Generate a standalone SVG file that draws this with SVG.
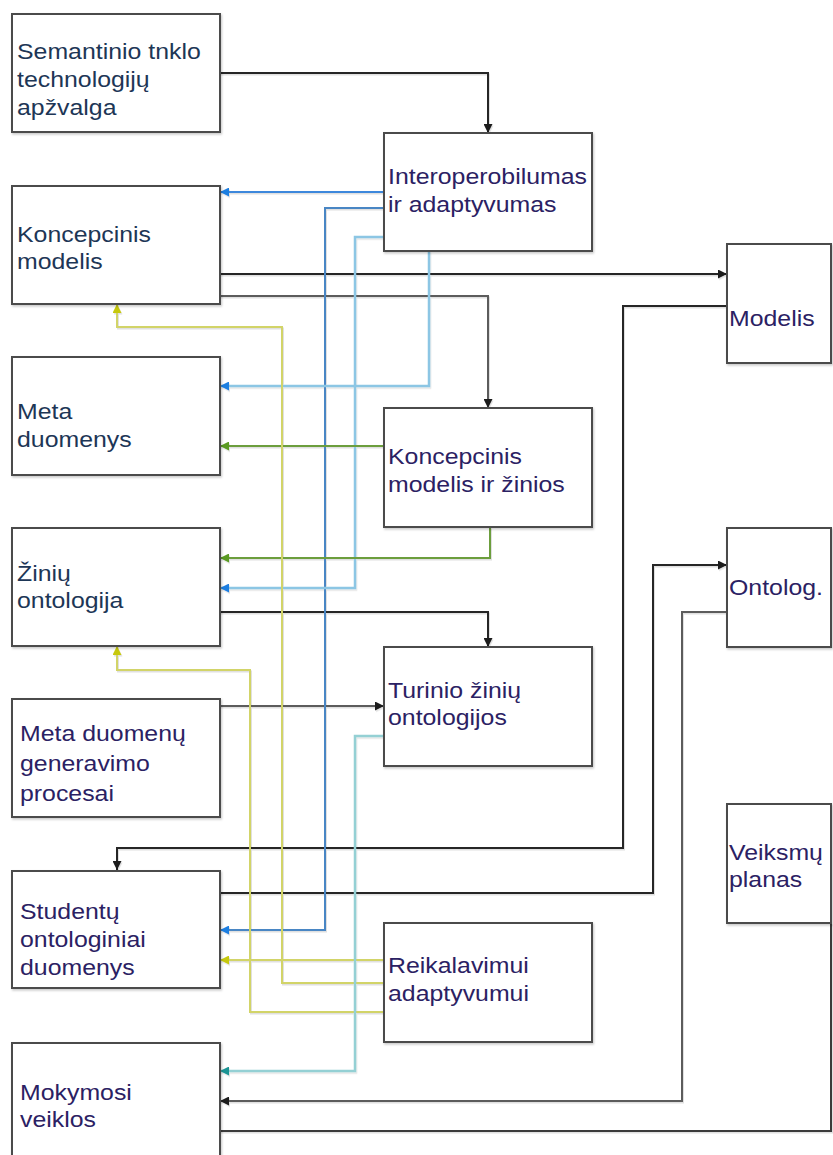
<svg xmlns="http://www.w3.org/2000/svg" width="833" height="1155" viewBox="0 0 833 1155">
  <defs>
    <filter id="shadow" x="-5%" y="-5%" width="115%" height="115%">
      <feDropShadow dx="1" dy="1.5" stdDeviation="0.8" flood-color="#000" flood-opacity="0.22"/>
    </filter>
    <filter id="lineShadow" x="-5%" y="-5%" width="110%" height="110%">
      <feDropShadow dx="1" dy="1.5" stdDeviation="0.6" flood-color="#000" flood-opacity="0.12"/>
    </filter>
    <marker id="ah-black" viewBox="0 0 10 10" refX="10" refY="5" markerWidth="10" markerHeight="9" markerUnits="userSpaceOnUse" orient="auto">
      <path d="M0,0 L10,5 L0,10 z" fill="#1e1e1e"/>
    </marker>
    <marker id="ah-blue" viewBox="0 0 10 10" refX="10" refY="5" markerWidth="10" markerHeight="9" markerUnits="userSpaceOnUse" orient="auto">
      <path d="M0,0 L10,5 L0,10 z" fill="#1f7ee0"/>
    </marker>
    <marker id="ah-green" viewBox="0 0 10 10" refX="10" refY="5" markerWidth="10" markerHeight="9" markerUnits="userSpaceOnUse" orient="auto">
      <path d="M0,0 L10,5 L0,10 z" fill="#5a9a22"/>
    </marker>
    <marker id="ah-yellow" viewBox="0 0 10 10" refX="10" refY="5" markerWidth="10" markerHeight="9" markerUnits="userSpaceOnUse" orient="auto">
      <path d="M0,0 L10,5 L0,10 z" fill="#c6c80e"/>
    </marker>
    <marker id="ah-teal" viewBox="0 0 10 10" refX="10" refY="5" markerWidth="10" markerHeight="9" markerUnits="userSpaceOnUse" orient="auto">
      <path d="M0,0 L10,5 L0,10 z" fill="#1b9494"/>
    </marker>
  </defs>
  <style>
    .box { fill: #ffffff; stroke: #4c4c4c; stroke-width: 2; filter: url(#shadow); }
    .lbl { font-family: "Liberation Sans", Arial, sans-serif; font-size: 22px; fill: #2b2163; }
    .lbl-b { fill: #1d3656; }
    .c { fill: none; stroke-width: 2; stroke-linejoin: miter; }
    .k { stroke: #262626; marker-end: url(#ah-black); }
    .kg { stroke: #5c5c5c; marker-end: url(#ah-black); }
    .blue { stroke: #3c88dc; marker-end: url(#ah-blue); }
    .steel { stroke: #4a86c4; marker-end: url(#ah-blue); }
    .lblue { stroke: #8cc6e4; stroke-width: 2.5; marker-end: url(#ah-blue); }
    .green { stroke: #6c9e3c; marker-end: url(#ah-green); }
    .yellow { stroke: #d2d468; marker-end: url(#ah-yellow); }
    .teal { stroke: #94d0d4; stroke-width: 2.5; marker-end: url(#ah-teal); }
  </style>
  <rect width="833" height="1155" fill="#ffffff"/>

  <!-- connectors -->
  <g id="connectors" filter="url(#lineShadow)">
    <!-- black flow -->
    <path class="c k" d="M220,73 H488 V133"/>
    <path class="c k" d="M220,274 H727"/>
    <path class="c kg" d="M220,296 H488 V408"/>
    <path class="c k" d="M727,306 H623 V848 H117 V870"/>
    <path class="c k" d="M220,893 H653 V565 H727"/>
    <path class="c kg" d="M727,612 H682 V1101 H220"/>
    <path class="c" stroke="#3a3a3a" d="M831,923 V1131 H220"/>
    <path class="c kg" d="M220,706 H384"/>
    <path class="c k" d="M220,612 H488 V647"/>
    <!-- from Interoperobilumas ir adaptyvumas -->
    <path class="c blue" d="M384,192 H220"/>
    <path class="c steel" d="M384,208 H325 V930 H220"/>
    <path class="c lblue" d="M384,237 H355 V588 H220"/>
    <path class="c lblue" d="M429,251 V386 H220"/>
    <!-- from Koncepcinis modelis ir žinios -->
    <path class="c green" d="M384,446 H220"/>
    <path class="c green" d="M490,527 V558 H220"/>
    <!-- from Reikalavimui adaptyvumui -->
    <path class="c yellow" d="M384,960 H220"/>
    <path class="c yellow" d="M384,983 H282 V327 H117 V304"/>
    <path class="c yellow" d="M384,1012 H250 V670 H117 V646"/>
    <!-- from Turinio žinių ontologijos -->
    <path class="c teal" d="M384,736 H355 V1071 H220"/>
  </g>

  <!-- left column -->
  <g id="semantinio">
    <rect class="box" x="12" y="14" width="208" height="118"/>
    <text class="lbl lbl-b" transform="translate(17 59) scale(1.13 1)"><tspan x="0" y="0">Semantinio tnklo</tspan><tspan x="0" y="28">technologijų</tspan><tspan x="0" y="56">apžvalga</tspan></text>
  </g>
  <g id="koncepcinis">
    <rect class="box" x="12" y="186" width="208" height="118"/>
    <text class="lbl lbl-b" transform="translate(17 242) scale(1.13 1)"><tspan x="0" y="0">Koncepcinis</tspan><tspan x="0" y="27">modelis</tspan></text>
  </g>
  <g id="meta-duomenys">
    <rect class="box" x="12" y="357" width="208" height="118"/>
    <text class="lbl lbl-b" transform="translate(17 419) scale(1.13 1)"><tspan x="0" y="0">Meta</tspan><tspan x="0" y="28">duomenys</tspan></text>
  </g>
  <g id="ziniu-ontologija">
    <rect class="box" x="12" y="528" width="208" height="118"/>
    <text class="lbl lbl-b" transform="translate(17 581) scale(1.13 1)"><tspan x="0" y="0">Žinių</tspan><tspan x="0" y="27">ontologija</tspan></text>
  </g>
  <g id="meta-generavimas">
    <rect class="box" x="12" y="699" width="208" height="118"/>
    <text class="lbl" transform="translate(20 741) scale(1.13 1)"><tspan x="0" y="0">Meta duomenų</tspan><tspan x="0" y="30">generavimo</tspan><tspan x="0" y="60">procesai</tspan></text>
  </g>
  <g id="studentu">
    <rect class="box" x="12" y="871" width="208" height="117"/>
    <text class="lbl" transform="translate(20 919) scale(1.13 1)"><tspan x="0" y="0">Studentų</tspan><tspan x="0" y="28">ontologiniai</tspan><tspan x="0" y="56">duomenys</tspan></text>
  </g>
  <g id="mokymosi">
    <rect class="box" x="12" y="1043" width="208" height="125"/>
    <text class="lbl" transform="translate(20 1100) scale(1.13 1)"><tspan x="0" y="0">Mokymosi</tspan><tspan x="0" y="27">veiklos</tspan></text>
  </g>

  <!-- middle column -->
  <g id="interoperobilumas">
    <rect class="box" x="384" y="133" width="208" height="118"/>
    <text class="lbl" transform="translate(388 184) scale(1.13 1)"><tspan x="0" y="0">Interoperobilumas</tspan><tspan x="0" y="28">ir adaptyvumas</tspan></text>
  </g>
  <g id="koncepcinis-zinios">
    <rect class="box" x="384" y="408" width="208" height="119"/>
    <text class="lbl" transform="translate(388 464) scale(1.13 1)"><tspan x="0" y="0">Koncepcinis</tspan><tspan x="0" y="28">modelis ir žinios</tspan></text>
  </g>
  <g id="turinio">
    <rect class="box" x="384" y="647" width="208" height="119"/>
    <text class="lbl" transform="translate(388 698) scale(1.13 1)"><tspan x="0" y="0">Turinio žinių</tspan><tspan x="0" y="27">ontologijos</tspan></text>
  </g>
  <g id="reikalavimui">
    <rect class="box" x="384" y="923" width="208" height="119"/>
    <text class="lbl" transform="translate(388 973) scale(1.13 1)"><tspan x="0" y="0">Reikalavimui</tspan><tspan x="0" y="28">adaptyvumui</tspan></text>
  </g>

  <!-- right column -->
  <g id="modelis">
    <rect class="box" x="727" y="244" width="104" height="119"/>
    <text class="lbl" transform="translate(729 326) scale(1.13 1)">Modelis</text>
  </g>
  <g id="ontolog">
    <rect class="box" x="727" y="528" width="104" height="119"/>
    <text class="lbl" transform="translate(729 595) scale(1.13 1)">Ontolog.</text>
  </g>
  <g id="veiksmu-planas">
    <rect class="box" x="727" y="804" width="104" height="119"/>
    <text class="lbl" transform="translate(729 860) scale(1.13 1)"><tspan x="0" y="0">Veiksmų</tspan><tspan x="0" y="27">planas</tspan></text>
  </g>
</svg>
